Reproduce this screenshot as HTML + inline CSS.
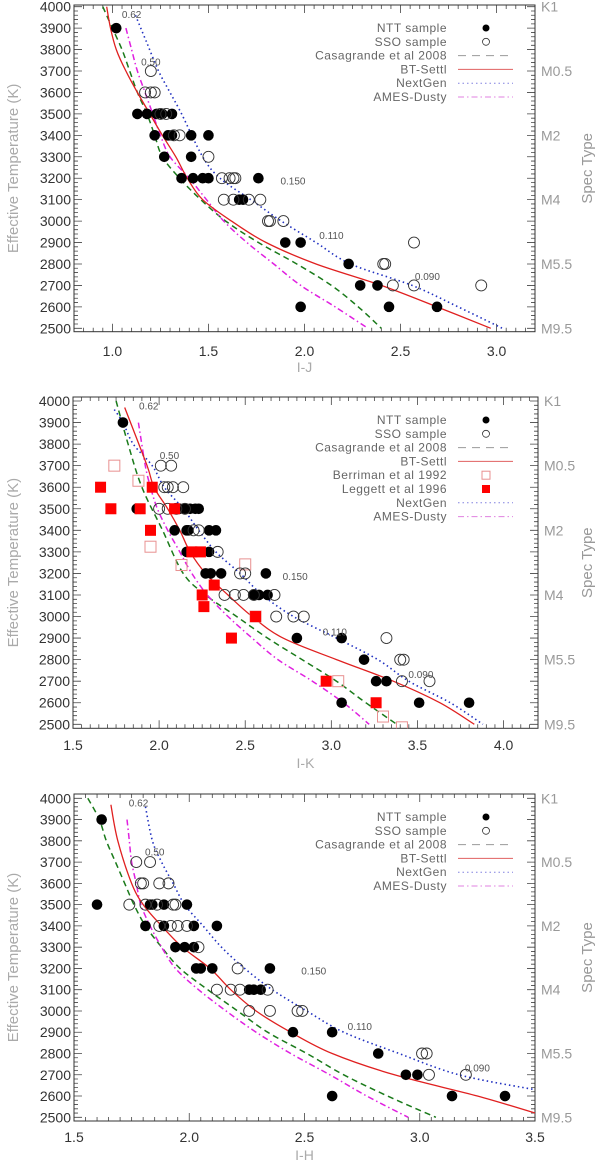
<!DOCTYPE html>
<html><head><meta charset="utf-8"><style>
html,body{margin:0;padding:0;background:#fff;}
svg{display:block;font-family:"Liberation Sans",sans-serif;}
</style></head><body>
<svg id="fig" width="600" height="1162" viewBox="0 0 600 1162" xmlns="http://www.w3.org/2000/svg"></svg>
<script>
// ===== Panel 1 (I-J) data =====
const p1NttX=[1.02,1.13,1.18,1.23,1.26,1.31,1.22,1.29,1.31,1.41,1.50,1.27,1.41,1.36,1.42,1.47,1.50,1.76,1.66,1.68,1.90,1.98,2.23,2.29,2.38,1.98,2.44,2.69];
const p1NttT=[3900,3500,3500,3500,3500,3500,3400,3400,3400,3400,3400,3300,3300,3200,3200,3200,3200,3200,3100,3100,2900,2900,2800,2700,2700,2600,2600,2600];
const p1SsoX=[1.20,1.17,1.20,1.22,1.25,1.28,1.32,1.35,1.50,1.57,1.61,1.63,1.64,1.58,1.63,1.71,1.77,1.81,1.82,1.89,2.57,2.41,2.42,2.46,2.57,2.92];
const p1SsoT=[3700,3600,3600,3600,3500,3500,3400,3400,3300,3200,3200,3200,3200,3100,3100,3100,3100,3000,3000,3000,2900,2800,2800,2700,2700,2700];
const p1CasX=[0.95,1.00,1.05,1.09,1.13,1.18,1.22,1.26,1.35,1.46,1.59,1.76,1.96,2.14,2.28,2.40];
const p1CasT=[4000,3900,3800,3700,3600,3500,3400,3300,3200,3100,3000,2900,2800,2700,2600,2500];
const p1BtX=[0.97,0.99,1.02,1.07,1.13,1.195,1.26,1.33,1.39,1.47,1.62,1.80,2.06,2.40,2.69,2.97];
const p1BtT=[4000,3900,3800,3700,3600,3500,3400,3300,3200,3100,3000,2900,2800,2700,2600,2500];
const p1NgX=[1.12,1.18,1.24,1.30,1.36,1.47,1.56,1.72,1.88,2.06,2.24,2.56,2.80,3.03];
const p1NgT=[3960,3830,3700,3600,3500,3300,3200,3100,3000,2900,2800,2700,2600,2500];
const p1AmX=[1.07,1.10,1.13,1.17,1.21,1.25,1.30,1.40,1.49,1.58,1.70,1.84,1.98,2.16,2.33];
const p1AmT=[3900,3800,3700,3600,3500,3400,3300,3200,3100,3000,2900,2800,2700,2600,2500];
const p1LabX=[1.10,1.20,1.94,2.14,2.64];
const p1LabT=[3965,3745,3190,2935,2745];
// ===== Panel 2 (I-K) data =====
const p2NttX=[1.79,1.87,1.89,2.09,2.12,2.15,2.18,2.21,2.23,2.09,2.16,2.17,2.29,2.33,2.16,2.29,2.27,2.30,2.36,2.62,2.55,2.58,2.63,2.80,3.06,3.19,3.26,3.32,3.06,3.51,3.80];
const p2NttT=[3900,3500,3500,3500,3500,3500,3500,3500,3500,3400,3400,3400,3400,3400,3300,3300,3200,3200,3200,3200,3100,3100,3100,2900,2900,2800,2700,2700,2600,2600,2600];
const p2SsoX=[2.01,2.07,2.03,2.05,2.08,2.14,2.00,2.05,2.10,2.15,2.20,2.23,2.34,2.47,2.50,2.38,2.44,2.49,2.55,2.67,2.68,2.78,2.84,3.32,3.40,3.42,3.41,3.57];
const p2SsoT=[3700,3700,3600,3600,3600,3600,3500,3500,3500,3500,3400,3400,3300,3200,3200,3100,3100,3100,3100,3100,3000,3000,3000,2900,2800,2800,2700,2700];
const p2BerX=[1.74,1.88,1.95,2.13,2.50,3.30,3.41,3.04,2.56];
const p2BerT=[3700,3630,3324,3239,3242,2536,2486,2700,3000];
const p2LegX=[1.66,1.72,1.89,1.96,1.95,2.09,2.19,2.24,2.32,2.25,2.26,2.56,2.42,2.97,3.26];
const p2LegT=[3600,3500,3500,3600,3400,3500,3300,3300,3146,3100,3046,3000,2900,2700,2600];
const p2CasX=[1.75,1.82,1.90,2.02,2.14,2.27,2.45,2.63,2.83,3.03,3.20,3.38];
const p2CasT=[4000,3800,3600,3400,3200,3100,3000,2900,2800,2700,2600,2500];
const p2BtX=[1.80,1.93,1.97,2.05,2.12,2.18,2.27,2.40,2.54,2.72,3.03,3.36,3.63,3.83];
const p2BtT=[3970,3700,3600,3500,3400,3300,3200,3100,3000,2900,2800,2700,2600,2500];
const p2NgX=[1.74,1.79,1.85,1.96,2.03,2.14,2.23,2.33,2.47,2.60,2.78,3.03,3.27,3.45,3.69,3.88];
const p2NgT=[3960,3900,3800,3700,3600,3500,3400,3300,3200,3100,3000,2900,2800,2700,2600,2500];
const p2AmX=[1.88,1.92,1.95,1.99,2.05,2.12,2.19,2.28,2.40,2.54,2.69,2.89,3.07,3.22];
const p2AmT=[3900,3700,3600,3500,3400,3300,3200,3100,3000,2900,2800,2700,2600,2500];
const p2LabX=[1.94,2.06,2.79,3.02,3.52];
const p2LabT=[3978,3750,3188,2930,2734];
// ===== Panel 3 (I-H) data =====
const p3NttX=[1.62,1.60,1.83,1.84,1.89,1.99,1.81,1.89,2.02,2.12,1.94,1.98,2.02,2.03,2.05,2.10,2.35,2.26,2.28,2.31,2.45,2.62,2.82,2.94,2.99,2.62,3.14,3.37];
const p3NttT=[3900,3500,3500,3500,3500,3500,3400,3400,3400,3400,3300,3300,3300,3200,3200,3200,3200,3100,3100,3100,2900,2900,2800,2700,2700,2600,2600,2600];
const p3SsoX=[1.77,1.83,1.79,1.80,1.87,1.91,1.74,1.81,1.86,1.93,1.94,1.87,1.92,1.95,1.99,2.04,2.21,2.12,2.18,2.22,2.34,2.26,2.35,2.47,2.49,3.01,3.03,3.04,3.20];
const p3SsoT=[3700,3700,3600,3600,3600,3600,3500,3500,3500,3500,3500,3400,3400,3400,3400,3300,3200,3100,3100,3100,3100,3000,3000,3000,3000,2800,2800,2700,2700];
const p3CasX=[1.56,1.61,1.64,1.68,1.72,1.76,1.81,1.88,1.96,2.08,2.21,2.34,2.51,2.67,2.86,3.07];
const p3CasT=[4000,3900,3800,3700,3600,3500,3400,3300,3200,3100,3000,2900,2800,2700,2600,2500];
const p3BtX=[1.66,1.69,1.75,1.80,1.88,1.97,2.09,2.18,2.29,2.44,2.62,2.89,3.25,3.50];
const p3BtT=[3970,3800,3600,3500,3400,3300,3200,3100,3000,2900,2800,2700,2600,2520];
const p3NgX=[1.81,1.84,1.88,1.93,1.98,2.06,2.14,2.24,2.36,2.51,2.67,2.91,3.17,3.50];
const p3NgT=[3960,3800,3700,3600,3500,3400,3300,3200,3100,3000,2900,2800,2700,2630];
const p3AmX=[1.73,1.74,1.75,1.77,1.79,1.83,1.88,1.94,2.04,2.16,2.29,2.44,2.61,2.77,2.95];
const p3AmT=[3900,3800,3700,3600,3500,3400,3300,3200,3100,3000,2900,2800,2700,2600,2500];
const p3LabX=[1.78,1.85,2.54,2.74,3.25];
const p3LabT=[3981,3750,3190,2930,2734];
const labText=["0.62","0.50","0.150","0.110","0.090"];
const yTicks=[4000,3900,3800,3700,3600,3500,3400,3300,3200,3100,3000,2900,2800,2700,2600,2500];
const specT=[4000,3700,3400,3100,2800,2500];
const specLab=["K1","M0.5","M2","M4","M5.5","M9.5"];
const p1XTicks=[1.0,1.5,2.0,2.5,3.0];
const p2XTicks=[1.5,2.0,2.5,3.0,3.5,4.0];
const p3XTicks=[1.5,2.0,2.5,3.0,3.5];

const NS="http://www.w3.org/2000/svg";
const svg=document.getElementById('fig');
function mk(tag,attrs,parent){const e=document.createElementNS(NS,tag);for(const k in attrs)e.setAttribute(k,attrs[k]);(parent||svg).appendChild(e);return e;}
function smoothPath(P){
  let d=`M${P[0][0].toFixed(1)},${P[0][1].toFixed(1)}`;
  for(let i=0;i<P.length-1;i++){
    const p0=P[Math.max(0,i-1)],p1=P[i],p2=P[i+1],p3=P[Math.min(P.length-1,i+2)];
    const c1x=p1[0]+(p2[0]-p0[0])/6,c1y=p1[1]+(p2[1]-p0[1])/6;
    const c2x=p2[0]-(p3[0]-p1[0])/6,c2y=p2[1]-(p3[1]-p1[1])/6;
    d+=`C${c1x.toFixed(1)},${c1y.toFixed(1)} ${c2x.toFixed(1)},${c2y.toFixed(1)} ${p2[0].toFixed(1)},${p2[1].toFixed(1)}`;
  }
  return d;
}

function panel(cfg){
  const g=mk('g',{});
  
  
  const L=cfg.left,R=cfg.right,T=cfg.top,B=cfg.bottom;
  const sx=v=>L+(v-cfg.xmin)/(cfg.xmax-cfg.xmin)*(R-L);
  const sy=t=>cfg.y4000+(4000-t)/1500*(cfg.y2500-cfg.y4000);
  let d='';
  for(let t=2480;t<=4010;t+=20){const y=sy(t);if(y<T||y>B)continue;const len=(t%100===0)?8:4;d+=`M${L},${y}h${len}M${R},${y}h${-len}`;}
  for(let v=Math.ceil(cfg.xmin*20)/20;v<=cfg.xmax+1e-6;v+=0.05){const x=sx(v);const maj=Math.abs(v*2-Math.round(v*2))<1e-6;const len=maj?8:4;d+=`M${x},${B}v${-len}M${x},${T}v${len}`;}
  const ticks=mk('path',{d:d,stroke:'#444','stroke-width':0.8,fill:'none'},g);
  
  
  const box=mk('rect',{x:L,y:T,width:R-L,height:B-T,fill:'none',stroke:'#333','stroke-width':1},g);
  
  
  yTicks.forEach(t=>{const tx=mk('text',{x:L-3,y:sy(t)+5,'text-anchor':'end','font-size':14,fill:'#333'},g);tx.textContent=t;
    
    });
  specT.forEach((t,i)=>{const tx=mk('text',{x:R+6,y:sy(t)+5,'font-size':14,fill:'#999'},g);tx.textContent=specLab[i];
    
    });
  cfg.xticks.forEach(v=>{const tx=mk('text',{x:sx(v),y:cfg.xlabY,'text-anchor':'middle','font-size':14,fill:'#333'},g);tx.textContent=v.toFixed(1);
    
    });
  const xt=mk('text',{x:(L+R)/2,y:cfg.xtitleY,'text-anchor':'middle','font-size':14,fill:'#aaa'},g);xt.textContent=cfg.xtitle;
  
  
  const ym=(T+B)/2;
  const yt=mk('text',{x:18,y:ym,'text-anchor':'middle','font-size':15,fill:'#aaa',transform:`rotate(-90 18 ${ym})`},g);yt.textContent='Effective Temperature (K)';
  
  
  const st=mk('text',{x:592,y:ym,'text-anchor':'middle','font-size':15,fill:'#999',transform:`rotate(-90 592 ${ym})`},g);st.textContent='Spec Type';
  
  
  const cid='clip'+cfg.name;
  const cp=mk('clipPath',{id:cid},g);mk('rect',{x:L,y:T,width:R-L,height:B-T},cp);
  const pg=mk('g',{'clip-path':`url(#${cid})`},g);
  function line(xs,ts,style,name){
    const P=xs.map((v,i)=>[sx(v),sy(ts[i])]);
    const p=mk('path',Object.assign({d:smoothPath(P),fill:'none'},style),pg);
    
    
  }
  const casS={stroke:'#1a7a1a','stroke-width':1.5,'stroke-dasharray':'6,4'};
  const btS={stroke:'#e02020','stroke-width':1.3};
  const ngS={stroke:'#2030c0','stroke-width':1.6,'stroke-dasharray':'1.5,3'};
  const amS={stroke:'#e020e0','stroke-width':1.5,'stroke-dasharray':'6,3,1.5,3'};
  line(cfg.cas[0],cfg.cas[1],casS,'casagrande-curve');
  line(cfg.am[0],cfg.am[1],amS,'ames-dusty-curve');
  line(cfg.ng[0],cfg.ng[1],ngS,'nextgen-curve');
  line(cfg.bt[0],cfg.bt[1],btS,'bt-settl-curve');
  if(cfg.ber){cfg.ber[0].forEach((v,i)=>{const r=mk('rect',{x:sx(v)-5.5,y:sy(cfg.ber[1][i])-5.5,width:11,height:11,fill:'none',stroke:'#e89090','stroke-width':1},pg);
    
    });}
  cfg.ntt[0].forEach((v,i)=>{const c=mk('circle',{cx:sx(v),cy:sy(cfg.ntt[1][i]),r:5.3,fill:'#000'},pg);
    
    });
  cfg.sso[0].forEach((v,i)=>{const c=mk('circle',{cx:sx(v),cy:sy(cfg.sso[1][i]),r:5.5,fill:'none',stroke:'#333','stroke-width':0.9},pg);
    
    });
  if(cfg.leg){cfg.leg[0].forEach((v,i)=>{const r=mk('rect',{x:sx(v)-5.5,y:sy(cfg.leg[1][i])-5.5,width:11,height:11,fill:'#f00'},pg);
    
    });}
  cfg.lab[0].forEach((v,i)=>{const tx=mk('text',{x:sx(v),y:sy(cfg.lab[1][i])+4,'text-anchor':'middle','font-size':10,fill:'#555'},g);tx.textContent=labText[i];
    
    });
  const lg=mk('g',{},g);
  
  
  cfg.legend.forEach((it,i)=>{
    const y=cfg.legY+i*13.8;
    const tx=mk('text',{x:447,y:y+4,'text-anchor':'end','font-size':12,fill:'#666','letter-spacing':'0.5'},lg);tx.textContent=it[0];
    
    
    const k=it[1];
    if(k==='ntt')mk('circle',{cx:486,cy:y,r:3.5,fill:'#000'},lg);
    else if(k==='sso')mk('circle',{cx:486,cy:y,r:3.5,fill:'none',stroke:'#333','stroke-width':0.8},lg);
    else if(k==='ber')mk('rect',{x:482,y:y-4,width:8,height:8,fill:'none',stroke:'#e89090'},lg);
    else if(k==='leg')mk('rect',{x:482,y:y-4,width:8,height:8,fill:'#f00'},lg);
    else {const st={cas:{stroke:'#999','stroke-dasharray':'8,6'},bt:{stroke:'#e06060'},ng:{stroke:'#8080e0','stroke-dasharray':'1.5,3'},am:{stroke:'#e080e0','stroke-dasharray':'6,3,1.5,3'}}[k];
      mk('line',Object.assign({x1:458,x2:513,y1:y,y2:y,'stroke-width':1},st),lg);}
  });
}
const baseLegend=[["NTT sample","ntt"],["SSO sample","sso"],["Casagrande et al 2008","cas"],["BT-Settl","bt"],["NextGen","ng"],["AMES-Dusty","am"]];
panel({name:'panel-i-j',left:74,right:535,top:5,bottom:331.7,y4000:6.7,y2500:328.3,xmin:0.8,xmax:3.2,xticks:p1XTicks,xlabY:356,xtitleY:372,xtitle:'I-J',
  ntt:[p1NttX,p1NttT],sso:[p1SsoX,p1SsoT],cas:[p1CasX,p1CasT],bt:[p1BtX,p1BtT],ng:[p1NgX,p1NgT],am:[p1AmX,p1AmT],lab:[p1LabX,p1LabT],legY:28,legend:baseLegend});
panel({name:'panel-i-k',left:73,right:538,top:397,bottom:728.3,y4000:401,y2500:724.3,xmin:1.5,xmax:4.2,xticks:p2XTicks,xlabY:750,xtitleY:768,xtitle:'I-K',
  ntt:[p2NttX,p2NttT],sso:[p2SsoX,p2SsoT],cas:[p2CasX,p2CasT],bt:[p2BtX,p2BtT],ng:[p2NgX,p2NgT],am:[p2AmX,p2AmT],ber:[p2BerX,p2BerT],leg:[p2LegX,p2LegT],lab:[p2LabX,p2LabT],legY:420,
  legend:[["NTT sample","ntt"],["SSO sample","sso"],["Casagrande et al 2008","cas"],["BT-Settl","bt"],["Berriman et al 1992","ber"],["Leggett et al 1996","leg"],["NextGen","ng"],["AMES-Dusty","am"]]});
panel({name:'panel-i-h',left:74,right:535,top:794,bottom:1121,y4000:798.3,y2500:1117.3,xmin:1.5,xmax:3.5,xticks:p3XTicks,xlabY:1142,xtitleY:1160,xtitle:'I-H',
  ntt:[p3NttX,p3NttT],sso:[p3SsoX,p3SsoT],cas:[p3CasX,p3CasT],bt:[p3BtX,p3BtT],ng:[p3NgX,p3NgT],am:[p3AmX,p3AmT],lab:[p3LabX,p3LabT],legY:817,legend:baseLegend});
</script>
</body></html>
